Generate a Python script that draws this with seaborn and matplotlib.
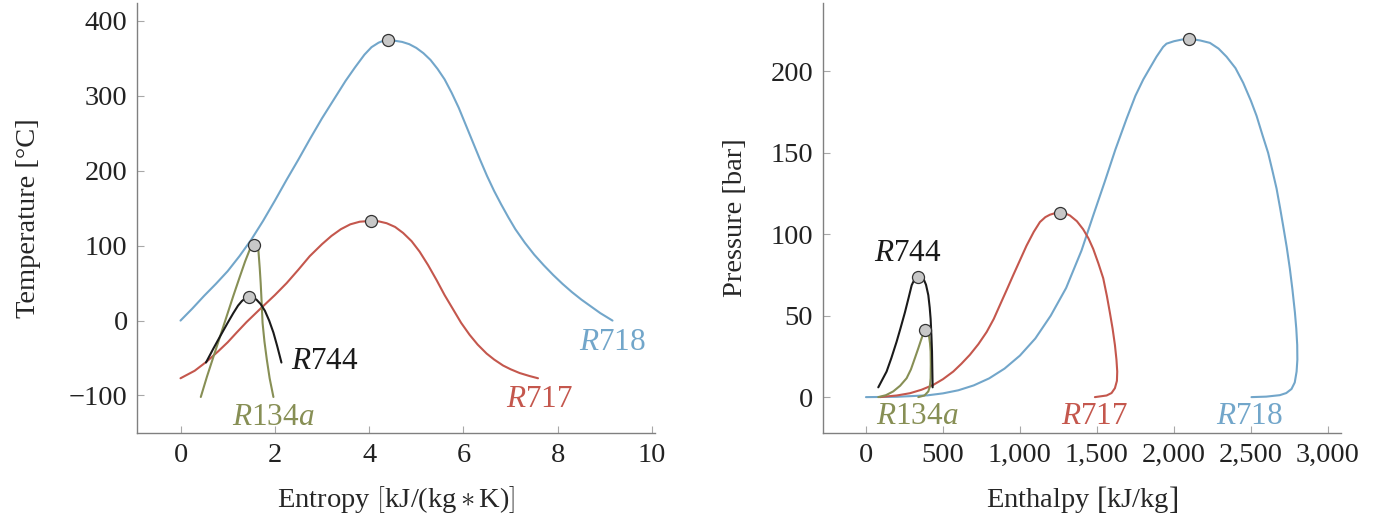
import matplotlib
matplotlib.use('Agg')

import pandas as pd
import matplotlib.pyplot as plt
import seaborn as sns
from matplotlib.ticker import FuncFormatter, MultipleLocator

# ==============================
# DADOS: DIAGRAMA T-s
# ==============================

r718_s = [0.0, 0.25, 0.5, 0.75, 1.0, 1.25, 1.5, 1.75, 2.0, 2.25, 2.5, 2.75, 3.0, 3.25, 3.5,
          3.7, 3.9, 4.05, 4.2, 4.3, 4.41, 4.55, 4.7, 4.85, 5.0, 5.15, 5.3, 5.45, 5.6, 5.75,
          5.9, 6.05, 6.2, 6.35, 6.5, 6.65, 6.8, 6.95, 7.1, 7.3, 7.5, 7.7, 7.9, 8.1, 8.3,
          8.5, 8.7, 8.9, 9.16]
r718_T = [0, 16, 33, 49, 66, 86, 108, 133, 160, 188, 215, 243, 270, 295, 320,
          338, 355, 365, 371, 373.5, 374, 373.5, 372, 369, 364, 357, 348, 336, 322, 304,
          284, 261, 238, 215, 193, 173, 155, 138, 122, 104, 88, 74, 61, 49, 38,
          28, 19, 10, 0]

r717_s = [0.0, 0.3, 0.55, 0.8, 1.0, 1.19, 1.4, 1.68, 2.0, 2.25, 2.5, 2.74, 3.0, 3.2, 3.4,
          3.6, 3.8, 4.03, 4.2, 4.37, 4.55, 4.72, 4.9, 5.07, 5.25, 5.43, 5.6, 5.78, 5.95,
          6.13, 6.3, 6.49, 6.65, 6.84, 7.0, 7.19, 7.4, 7.58]
r717_T = [-77, -67, -55, -41, -29, -16, -2, 15, 34, 50, 68, 86, 102, 113, 122,
          128.5, 132, 133, 132.5, 130, 125, 117, 106, 92, 74, 54, 34, 15, -3,
          -19, -32, -44, -52, -60, -65, -70, -74, -77]

r744_s = [0.54, 0.7, 0.84, 1.0, 1.12, 1.22, 1.30, 1.38, 1.45, 1.53, 1.61, 1.70, 1.79,
          1.88, 1.97, 2.05, 2.14]
r744_T = [-56, -37, -21, -3, 10, 20, 26, 30, 31, 30.5, 28, 22, 13,
          0, -16, -34, -56]

r134a_s = [0.43, 0.56, 0.70, 0.84, 0.98, 1.12, 1.26, 1.37, 1.47, 1.52, 1.56, 1.60, 1.65,
           1.68, 1.70, 1.72, 1.74, 1.78, 1.83, 1.89, 1.97]
r134a_T = [-102, -75, -48, -21, 6, 33, 59, 79, 95, 100, 101, 100, 95,
           70, 50, 25, -3, -28, -52, -77, -102]

# ==============================
# DADOS: DIAGRAMA p-h
# ==============================

r718_h = [0, 200, 400, 500, 600, 700, 800, 900, 1000, 1100, 1200, 1300, 1400, 1476, 1550,
          1620, 1693, 1750, 1801, 1850, 1887, 1930, 1952, 2000, 2050, 2099, 2170, 2234,
          2290, 2342, 2400, 2450, 2500, 2537, 2575, 2612, 2640, 2667, 2690, 2710, 2733,
          2753, 2770, 2786, 2795, 2801, 2802, 2797, 2785, 2764, 2730, 2688, 2600, 2504]
r718_p = [0, 0.2, 1.1, 2.3, 4.2, 7.2, 11.5, 17.5, 25.5, 36, 50, 67, 90, 111.5, 132,
          152, 171, 185, 195, 203, 209, 215, 217, 218.5, 219.5, 220, 219, 217.5,
          214, 209, 202, 193, 182, 172.7, 161, 150, 139, 128, 116, 105, 92,
          79, 66, 52, 42, 32, 23, 15.7, 9, 5, 2.5, 1.2, 0.3, 0]

r717_h = [90, 200, 286, 360, 437, 500, 567, 620, 675, 730, 784, 830, 870, 915, 957, 1000,
          1043, 1090, 1130, 1165, 1195, 1230, 1260, 1295, 1325, 1370, 1411, 1445, 1476,
          1510, 1541, 1565, 1584, 1602, 1617, 1627, 1632, 1630, 1617, 1595, 1563, 1487]
r717_p = [0, 1, 2.4, 4.5, 7.5, 11, 15.7, 20.5, 26, 32.5, 40, 48, 56.5, 66, 75, 84,
          93, 101.5, 107.5, 110.5, 112, 113, 113, 112.8, 111.5, 108, 103, 97.5, 91,
          82, 73, 62, 52, 42, 32, 23, 15.7, 10, 5.5, 2.5, 1, 0]

r744_h = [80, 105, 134, 165, 199, 225, 253, 277, 297, 316, 336, 355, 372, 390, 405,
          414, 420, 425, 429, 431, 433]
r744_p = [6, 10.5, 15.7, 24, 34, 42.5, 52, 61, 68.7, 72.5, 74, 74.2, 73, 69, 62.6,
          55, 48, 38, 28, 17, 6]

r134a_h = [80, 130, 177, 222, 264, 292, 318, 340, 361, 375, 385, 398, 409, 416, 420,
           421, 420, 415, 405, 380, 340]
r134a_p = [0, 1.2, 3.5, 7, 11.6, 17, 24, 30, 36, 39.5, 41, 40.5, 38, 33, 28,
           20, 11.6, 6.5, 3.5, 1, 0]

# pontos criticos
crit_s = [4.41, 4.03, 1.56, 1.45]
crit_T = [374, 133, 101, 31]
crit_h = [2099, 1260, 385, 336]
crit_p = [220, 113, 41, 74]

AZUL = '#72a6ca'
VERMELHO = '#c4574d'
OLIVA = '#878f55'
PRETO = '#1a1a1a'

sns.set_theme(style='ticks')
plt.rcParams['font.family'] = ['Liberation Serif', 'DejaVu Serif']
plt.rcParams['mathtext.fontset'] = 'custom'
plt.rcParams['mathtext.rm'] = 'Liberation Serif'
plt.rcParams['mathtext.it'] = 'Liberation Serif:italic'
plt.rcParams['axes.unicode_minus'] = True

FS = 20.5
FS_LAB = 22.5

fig = plt.figure(figsize=(13.79, 5.21), dpi=100)
ax1 = fig.add_axes([0.0996, 0.169, 0.3757, 0.8253])
ax2 = fig.add_axes([0.5967, 0.169, 0.3757, 0.8253])


def curva(ax, x, y, cor):
    df = pd.DataFrame({'x': x, 'y': y})
    sns.lineplot(data=df, x='x', y='y', sort=False, estimator=None,
                 color=cor, lw=1.5, ax=ax)


def estilo(ax):
    for lado in ['top', 'right']:
        ax.spines[lado].set_visible(False)
    for lado in ['left', 'bottom']:
        ax.spines[lado].set_color('#808080')
        ax.spines[lado].set_linewidth(1.0)
    ax.tick_params(direction='in', length=5, width=0.8, color='#a8a8a8',
                   labelsize=FS, labelcolor='#222222', pad=7)


# ======================
# T-s
# ======================

curva(ax1, r718_s, r718_T, AZUL)
curva(ax1, r717_s, r717_T, VERMELHO)
curva(ax1, r134a_s, r134a_T, OLIVA)
curva(ax1, r744_s, r744_T, PRETO)
sns.scatterplot(x=crit_s, y=crit_T, s=75, color='#c8c8c8', edgecolor='#333333',
                linewidth=0.9, zorder=5, ax=ax1)

ax1.text(9.16, -29, '$R718$', color=AZUL, fontsize=FS_LAB, ha='center', va='center')
ax1.text(7.62, -105, '$R717$', color=VERMELHO, fontsize=FS_LAB, ha='center', va='center')
ax1.text(3.06, -55, '$R744$', color=PRETO, fontsize=FS_LAB, ha='center', va='center')
ax1.text(1.96, -129, '$R134a$', color=OLIVA, fontsize=FS_LAB, ha='center', va='center')

ax1.set_xlim(-0.915, 10.07)
ax1.set_ylim(-150, 424)
ax1.xaxis.set_major_locator(MultipleLocator(2))
ax1.yaxis.set_major_locator(MultipleLocator(100))
ax1.set_xlabel(r'Entropy $\left[\mathrm{kJ/(kg \ast K)}\right]$', fontsize=FS, labelpad=12)
ax1.set_ylabel('Temperature [°C]', fontsize=FS, labelpad=20)
estilo(ax1)

# ======================
# p-h
# ======================

curva(ax2, r718_h, r718_p, AZUL)
curva(ax2, r717_h, r717_p, VERMELHO)
curva(ax2, r134a_h, r134a_p, OLIVA)
curva(ax2, r744_h, r744_p, PRETO)
sns.scatterplot(x=crit_h, y=crit_p, s=75, color='#c8c8c8', edgecolor='#333333',
                linewidth=0.9, zorder=5, ax=ax2)

ax2.text(273, 88, '$R744$', color=PRETO, fontsize=FS_LAB, ha='center', va='center')
ax2.text(331, -11.6, '$R134a$', color=OLIVA, fontsize=FS_LAB, ha='center', va='center')
ax2.text(1487, -11.6, '$R717$', color=VERMELHO, fontsize=FS_LAB, ha='center', va='center')
ax2.text(2494, -11.6, '$R718$', color=AZUL, fontsize=FS_LAB, ha='center', va='center')

ax2.set_xlim(-280, 3085)
ax2.set_ylim(-22, 242)
ax2.xaxis.set_major_locator(MultipleLocator(500))
ax2.yaxis.set_major_locator(MultipleLocator(50))
ax2.xaxis.set_major_formatter(FuncFormatter(lambda v, pos: f'{v:,.0f}'))
ax2.set_xlabel(r'Enthalpy $\left[\mathrm{kJ/kg}\right]$', fontsize=FS, labelpad=12)
ax2.set_ylabel('Pressure [bar]', fontsize=FS, labelpad=16)
estilo(ax2)

fig.savefig('out.png', dpi=100)
plt.close(fig)
